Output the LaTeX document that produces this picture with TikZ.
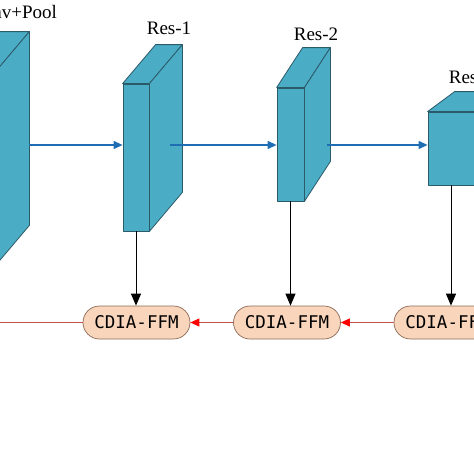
\documentclass[tikz,border=0pt]{standalone}
\usepackage{fontspec}
\setmainfont{Liberation Serif}
\newfontfamily\ffmfont{DejaVu Sans Mono}
\usetikzlibrary{arrows.meta,positioning,shapes.misc}

\definecolor{blockfill}{HTML}{4BACC6}
\definecolor{blockedge}{HTML}{2B5A68}
\definecolor{ffmfill}{HTML}{F9D5BC}
\definecolor{ffmedge}{HTML}{8C6A57}
\definecolor{flowblue}{HTML}{1F6EB4}
\definecolor{backred}{HTML}{C0504D}

% top and side faces behind a front-face node: name, dx, dy
\newcommand{\blockfaces}[3]{%
  \draw[face] (#1.north west) -- ++(#2,-#3) -- ([shift={(#2,-#3)}]#1.north east)
    -- (#1.north east) -- cycle;
  \draw[face] (#1.north east) -- ([shift={(#2,-#3)}]#1.north east)
    -- ([shift={(#2,-#3)}]#1.south east) -- (#1.south east) -- cycle;}

\begin{document}
\begin{tikzpicture}[
  x=1pt, y=-1pt,
  face/.style={draw=blockedge, fill=blockfill, line width=0.8pt, line join=round},
  block/.style={face, inner sep=0pt},
  lbl/.style={anchor=base, font=\fontsize{19}{21}\selectfont},
  ffm/.style={draw=ffmedge, fill=ffmfill, rounded rectangle, line width=0.7pt,
              minimum width=107pt, minimum height=33pt, inner sep=0pt,
              font=\ffmfont\fontsize{17.5}{19}\selectfont},
  flow/.style={flowblue, line width=1.1pt, -{Triangle[length=9pt,width=8pt]}},
  down/.style={black, line width=1pt, -{Triangle[length=12pt,width=10pt]}},
  back/.style={backred, line width=1pt, -{Triangle[length=9pt,width=8pt,color=red]}}
]
\useasboundingbox (0,0) rectangle (474,474);
\clip (0,0) rectangle (474,474);

% backbone blocks (front faces)
\node[block, minimum width=30pt, minimum height=193pt] (conv) at (-19,167.5) {};
\blockfaces{conv}{33}{39}
\node[block, minimum width=26pt, minimum height=147pt] (res1) at (136,157.5) {};
\blockfaces{res1}{33}{39}
\node[block, minimum width=27pt, minimum height=113pt] (res2) at (290.5,144.5) {};
\blockfaces{res2}{26}{40}
\node[block, minimum width=46pt, minimum height=73pt] (res3) at (451,148.5) {};
\blockfaces{res3}{27}{20}

\node[lbl] (lbl-conv) at (13.5,18) {Conv+Pool};
\node[lbl] (lbl-res1) at (169,34) {Res-1};
\node[lbl] (lbl-res2) at (316,40) {Res-2};
\node[lbl] (lbl-res3) at (471,83) {Res-3};

% fusion modules
\node[ffm] (f1) at (136.5,322.5) {CDIA-FFM};
\node[ffm] (f2) at (287,322.5) {CDIA-FFM};
\node[ffm] (f3) at (447.5,322.5) {CDIA-FFM};
\coordinate (f0) at (-40,322.5);

% forward path
\coordinate (conv-out) at (29,145);
\coordinate (res1-out) at (170,145);
\coordinate (res2-out) at (327,145);
\draw[flow] (conv-out) -- (conv-out -| res1.west);
\draw[flow] (res1-out) -- (res1-out -| res2.west);
\draw[flow] (res2-out) -- (res2-out -| res3.west);

\draw[down] (res1.south) -- (res1.south |- f1.north);
\draw[down] (res2.south) -- (res2.south |- f2.north);
\draw[down] (res3.south) -- (res3.south |- f3.north);

\draw[back] (f3.west) -- (f2.east);
\draw[back] (f2.west) -- (f1.east);
\draw[back] (f1.west) -- (f0);
\end{tikzpicture}
\end{document}
